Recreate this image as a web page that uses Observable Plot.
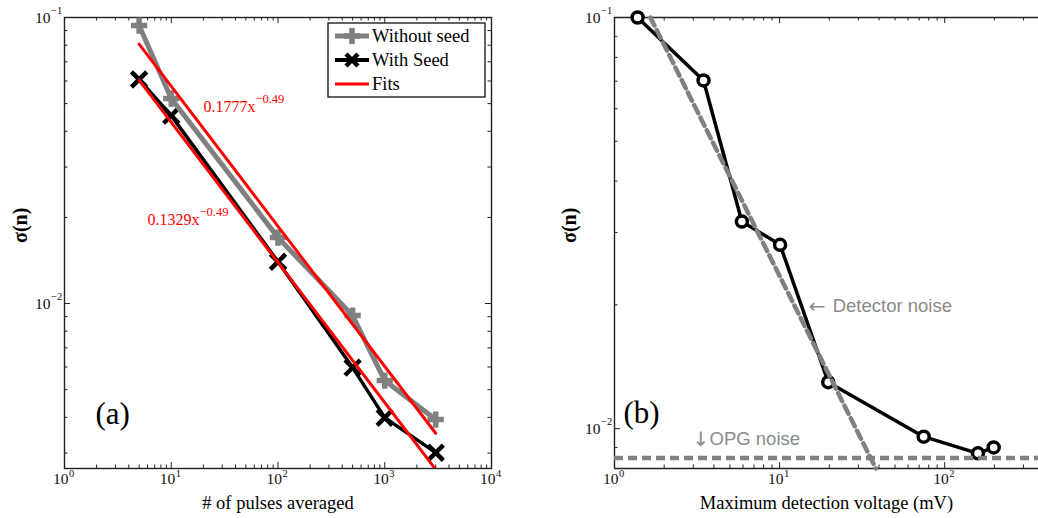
<!DOCTYPE html>
<html>
<head>
<meta charset="utf-8">
<script src="https://cdn.jsdelivr.net/npm/d3@7"></script>
<script src="https://cdn.jsdelivr.net/npm/@observablehq/plot@0.6"></script>
<style>
  html, body { margin: 0; padding: 0; background: #fff; }
  #wrap { position: relative; width: 1038px; height: 518px; display: flex; overflow: hidden; }
  #wrap svg { display: block; }
  #legend { position: absolute; left: 0; top: 0; pointer-events: none; }
</style>
</head>
<body>
<div id="wrap"><div id="a"></div><div id="b"></div></div>
<script>
// ---------- Panel (a) data ----------
const pulses = [5, 10, 100, 500, 1000, 3000];
const sigmaWithout = [0.0937, 0.0521, 0.0170, 0.00908, 0.00538, 0.00393];
const sigmaWith = [0.0607, 0.0454, 0.0140, 0.00597, 0.00399, 0.00301];
const fitX = [5, 3000];
const fitWithout = [0.0807, 0.00352];
const fitWith = [0.0604, 0.00263];
const fitLabels = ["0.1777x", "0.1329x"];
const fitExponent = "\u22120.49";
const fitLabelX = [20.0, 5.99];
const fitLabelY = [0.0466, 0.01875];

// ---------- Panel (b) data ----------
const voltage = [1.38, 3.46, 5.91, 10.07, 19.7, 74.6, 159, 198];
const sigmaV = [0.1, 0.0703, 0.0319, 0.0280, 0.01297, 0.00956, 0.00871, 0.0090];
const detectorX = [1.65, 38.3];
const detectorY = [0.1, 0.0080];
const opgLevel = [0.00849];
const noteArrow = ["\u2190", "\u2193"];
const noteText = ["Detector noise", "OPG noise"];
const noteX = [15.0, 2.97];
const noteY = [0.01927, 0.00914];

// ---------- Tick labels ----------
const xMajorA = [1, 10, 100, 1000, 10000];
const xExpA = ["0", "1", "2", "3", "4"];
const xMajorB = [1, 10, 100];
const xExpB = ["0", "1", "2"];
const yMajor = [0.01, 0.1];
const yExp = ["\u22122", "\u22121"];
const xMinorA = [2,3,4,5,6,7,8,9,20,30,40,50,60,70,80,90,200,300,400,500,600,700,800,900,2000,3000,4000,5000,6000,7000,8000,9000];
const xMinorB = [2,3,4,5,6,7,8,9,20,30,40,50,60,70,80,90,200,300];
const yMinorA = [0.003,0.004,0.005,0.006,0.007,0.008,0.009,0.02,0.03,0.04,0.05,0.06,0.07,0.08,0.09];
const yMinorB = [0.008,0.009,0.02,0.03,0.04,0.05,0.06,0.07,0.08,0.09];

const serif = "Liberation Serif, Times New Roman, serif";
const sans = "Liberation Sans, Arial, sans-serif";
const H = 518, MT = 17, MB = 50;
const PH = H - MT - MB;
const majL = 6, minL = 3.5;
const frameColor = "#222";

function tickMarks(xMaj, xMin, yMaj, yMin, pw, rightSide) {
  const m = [
    Plot.ruleX(xMaj, {x: d => d, insetTop: PH - majL, stroke: frameColor}),
    Plot.ruleX(xMaj, {x: d => d, insetBottom: PH - majL, stroke: frameColor}),
    Plot.ruleX(xMin, {x: d => d, insetTop: PH - minL, stroke: frameColor}),
    Plot.ruleX(xMin, {x: d => d, insetBottom: PH - minL, stroke: frameColor}),
    Plot.ruleY(yMaj, {y: d => d, insetRight: pw - majL, stroke: frameColor}),
    Plot.ruleY(yMin, {y: d => d, insetRight: pw - minL, stroke: frameColor})
  ];
  if (rightSide) {
    m.push(Plot.ruleY(yMaj, {y: d => d, insetLeft: pw - majL, stroke: frameColor}));
    m.push(Plot.ruleY(yMin, {y: d => d, insetLeft: pw - minL, stroke: frameColor}));
  }
  return m;
}
function tickLabels(xMaj, xExp) {
  return [
    Plot.text(xMaj, {x: d => d, frameAnchor: "bottom", text: () => "10", textAnchor: "end", lineAnchor: "bottom", dx: 4, dy: 15, fontSize: 15.5, fill: "#111"}),
    Plot.text(xMaj, {x: d => d, frameAnchor: "bottom", text: (d, i) => xExp[i], textAnchor: "start", lineAnchor: "bottom", dx: 4.5, dy: 8, fontSize: 10.5, fill: "#111"}),
    Plot.text(yMajor, {y: d => d, frameAnchor: "left", text: () => "10", textAnchor: "end", lineAnchor: "bottom", dx: -14, dy: 5, fontSize: 15.5, fill: "#111"}),
    Plot.text(yMajor, {y: d => d, frameAnchor: "left", text: (d, i) => yExp[i], textAnchor: "start", lineAnchor: "bottom", dx: -13.5, dy: -4, fontSize: 10.5, fill: "#111"})
  ];
}

// ---------- Panel (a) ----------
const WA = 520, PWA = WA - 64 - 29;
const tA = pulses.map((p, i) => ({p, without: sigmaWithout[i], with: sigmaWith[i]}));
const fA = fitX.map((x, i) => ({x, a: fitWithout[i], b: fitWith[i]}));
const labA = fitLabels.map((t, i) => ({t, x: fitLabelX[i], y: fitLabelY[i]}));

const plotA = Plot.plot({
  width: WA, height: H,
  marginLeft: 64, marginRight: 29, marginTop: MT, marginBottom: MB,
  x: {type: "log", domain: [1, 1e4], axis: null},
  y: {type: "log", domain: [0.00265, 0.1], axis: null},
  style: {fontFamily: serif, background: "white", overflow: "visible"},
  marks: [
    ...tickMarks(xMajorA, xMinorA, yMajor, yMinorA, PWA, true),
    Plot.frame({stroke: frameColor, strokeWidth: 1.4}),
    Plot.line(tA, {x: "p", y: "with", stroke: "#000", strokeWidth: 3.5, strokeLinejoin: "round"}),
    Plot.dot(tA, {x: "p", y: "with", symbol: "times", r: 7, stroke: "#000", strokeWidth: 4.5}),
    Plot.line(tA, {x: "p", y: "without", stroke: "#808080", strokeWidth: 5, strokeLinejoin: "round"}),
    Plot.dot(tA, {x: "p", y: "without", symbol: "plus", r: 5.3, stroke: "#808080", strokeWidth: 5.5}),
    Plot.line(fA, {x: "x", y: "a", stroke: "#ff0000", strokeWidth: 3, clip: true}),
    Plot.line(fA, {x: "x", y: "b", stroke: "#ff0000", strokeWidth: 3, clip: true}),
    Plot.text(labA, {x: "x", y: "y", text: "t", textAnchor: "start", lineAnchor: "bottom", fontSize: 16, fill: "#ff0000"}),
    Plot.text(labA, {x: "x", y: "y", text: () => fitExponent, textAnchor: "start", lineAnchor: "bottom", dx: 52, dy: -9, fontSize: 12.5, fill: "#ff0000"}),
    ...tickLabels(xMajorA, xExpA),
    Plot.text(["(a)"], {frameAnchor: "bottom-left", text: d => d, textAnchor: "start", lineAnchor: "bottom", dx: 31, dy: -45, fontSize: 31, fill: "#000"}),
    Plot.text(["# of pulses averaged"], {frameAnchor: "bottom", text: d => d, lineAnchor: "bottom", dy: 40, fontSize: 18.5, fill: "#000"}),
    Plot.text(["\u03c3(n)"], {frameAnchor: "left", text: d => d, rotate: -90, lineAnchor: "middle", dx: -44, fontSize: 20, fontWeight: "bold", fill: "#000"})
  ]
});

// ---------- Panel (b) ----------
const WB = 518, PWB = WB - 94;
const tB = voltage.map((v, i) => ({v, s: sigmaV[i]}));
const dB = detectorX.map((x, i) => ({x, y: detectorY[i]}));
const nB = noteText.map((t, i) => ({t, a: noteArrow[i], x: noteX[i], y: noteY[i]}));
const noteGap = [24, 17];

const plotB = Plot.plot({
  width: WB, height: H,
  marginLeft: 94, marginRight: 0, marginTop: MT, marginBottom: MB,
  x: {type: "log", domain: [1, 370], axis: null},
  y: {type: "log", domain: [0.0080, 0.1], axis: null},
  style: {fontFamily: serif, background: "white", overflow: "visible"},
  marks: [
    ...tickMarks(xMajorB, xMinorB, yMajor, yMinorB, PWB, false),
    Plot.ruleX([1], {stroke: frameColor, strokeWidth: 1.4}),
    Plot.ruleY([0.1, 0.0080], {stroke: frameColor, strokeWidth: 1.4}),
    Plot.line(tB, {x: "v", y: "s", stroke: "#000", strokeWidth: 3.5, strokeLinejoin: "round"}),
    Plot.dot(tB, {x: "v", y: "s", r: 5.5, stroke: "#000", strokeWidth: 3.5, fill: "white"}),
    Plot.line(dB, {x: "x", y: "y", stroke: "#808080", strokeWidth: 4.5, strokeDasharray: "9,5"}),
    Plot.ruleY(opgLevel, {y: d => d, stroke: "#808080", strokeWidth: 4.5, strokeDasharray: "9,5"}),
    Plot.text(nB, {x: "x", y: "y", text: "a", textAnchor: "start", lineAnchor: "bottom", fontFamily: "DejaVu Sans, sans-serif", fontSize: 20, fill: "#8a8a8a", dy: 1}),
    ...nB.map((d, i) => Plot.text([d], {x: "x", y: "y", text: "t", textAnchor: "start", lineAnchor: "bottom", dx: noteGap[i], fontFamily: sans, fontSize: 18.5, fill: "#8a8a8a"})),
    ...tickLabels(xMajorB, xExpB),
    Plot.text(["(b)"], {frameAnchor: "bottom-left", text: d => d, textAnchor: "start", lineAnchor: "bottom", dx: 9, dy: -46, fontSize: 31, fill: "#000"}),
    Plot.text(["Maximum detection voltage (mV)"], {frameAnchor: "bottom", text: d => d, lineAnchor: "bottom", dy: 40, fontSize: 18.5, fill: "#000"}),
    Plot.text(["\u03c3(n)"], {frameAnchor: "left", text: d => d, rotate: -90, lineAnchor: "middle", dx: -45, fontSize: 20, fontWeight: "bold", fill: "#000"})
  ]
});

document.getElementById("a").appendChild(plotA);
document.getElementById("b").appendChild(plotB);

// ---------- Legend (panel a) ----------
const legendItems = ["Without seed", "With Seed", "Fits"];
const ns = "http://www.w3.org/2000/svg";
const lg = document.createElementNS(ns, "svg");
lg.setAttribute("id", "legend");
lg.setAttribute("width", 1038);
lg.setAttribute("height", 518);
lg.innerHTML = `
  <rect x="328" y="23" width="157" height="74" fill="white" stroke="${frameColor}" stroke-width="1.4"/>
  <line x1="335" y1="36" x2="369" y2="36" stroke="#808080" stroke-width="5"/>
  <path d="M344,36h16M352,28v16" stroke="#808080" stroke-width="5.5" fill="none"/>
  <line x1="335" y1="60" x2="369" y2="60" stroke="#000" stroke-width="4"/>
  <path d="M346,54l12,12M358,54l-12,12" stroke="#000" stroke-width="4.5" fill="none"/>
  <line x1="335" y1="84" x2="369" y2="84" stroke="#ff0000" stroke-width="3"/>
  ${legendItems.map((t, i) => `<text x="372" y="${42 + i * 24}" font-family="${serif}" font-size="18.5" fill="#000">${t}</text>`).join("")}
`;
document.getElementById("wrap").appendChild(lg);
</script>
</body>
</html>
